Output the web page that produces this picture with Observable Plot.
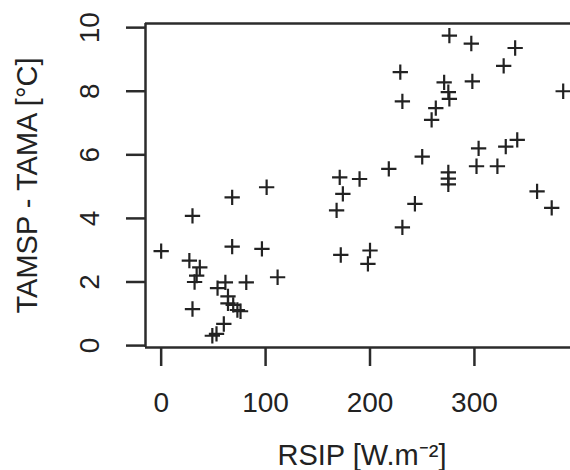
<!DOCTYPE html>
<html>
<head>
<meta charset="utf-8">
<script src="https://cdn.jsdelivr.net/npm/d3@7"></script>
<script src="https://cdn.jsdelivr.net/npm/@observablehq/plot@0.6"></script>
<style>
  html, body { margin: 0; padding: 0; background: white; overflow: hidden; }
  g[aria-label^="x-axis"] line, g[aria-label^="x-axis"] path,
  g[aria-label^="y-axis"] line, g[aria-label^="y-axis"] path { stroke-width: 2.5px; stroke: #2b2b2b; }
</style>
</head>
<body>
<div id="chart"></div>
<script>
const rsip = [0, 27, 37, 34, 32, 30, 30, 54, 61.5, 81.5, 111.5, 68, 96.5, 68, 101, 64, 64, 69, 73, 76, 60, 53, 49,
  276, 297, 339, 328, 229, 271, 298, 385, 275, 276, 231, 263, 259, 341, 330, 304, 250, 218, 275, 275,
  275, 302, 322, 360, 374, 171, 190, 174, 168, 243, 231, 172, 200, 198];
const dT = [2.97, 2.67, 2.46, 2.2, 2.0, 1.15, 4.08, 1.81, 1.99, 1.99, 2.15, 3.11, 3.04, 4.66, 4.98, 1.55, 1.33, 1.28, 1.12, 1.08, 0.68, 0.37, 0.31,
  9.75, 9.5, 9.36, 8.8, 8.6, 8.28, 8.31, 8.0, 7.97, 7.76, 7.68, 7.47, 7.1, 6.47, 6.26, 6.2, 5.94, 5.56, 5.45, 5.25,
  5.07, 5.64, 5.64, 4.85, 4.33, 5.29, 5.24, 4.77, 4.25, 4.46, 3.72, 2.85, 2.99, 2.57];
const xTicks = [0, 100, 200, 300];
const yTicks = [0, 2, 4, 6, 8, 10];
const xDomain = [-15, 392];
const yDomain = [-0.06, 10.13];
const xTitle = "RSIP [W.m⁻²]";
const yTitle = "TAMSP - TAMA [°C]";

const data = rsip.map((x, i) => ({x, y: dT[i]}));
const ink = "#222";

const chart = Plot.plot({
  width: 570,
  height: 470,
  marginLeft: 145,
  marginRight: 0,
  marginTop: 23,
  marginBottom: 123,
  style: {fontFamily: "'Liberation Sans', Arial, sans-serif", fontSize: "28px", color: ink, background: "white"},
  x: {domain: xDomain, ticks: xTicks, tickSize: 19, tickPadding: 26, label: null},
  y: {domain: yDomain, ticks: yTicks, tickSize: 19, tickFormat: () => "", label: null},
  marks: [
    Plot.ruleY(yDomain, {stroke: "#2b2b2b", strokeWidth: 2.5}),
    Plot.ruleX([xDomain[0]], {stroke: "#2b2b2b", strokeWidth: 2.5}),
    Plot.text(yTicks, {y: d => d, text: d => String(d), frameAnchor: "left", textAnchor: "middle", lineAnchor: "middle", dx: -55, rotate: -90, fontSize: 28, fill: ink}),
    Plot.text([yTitle], {frameAnchor: "left", textAnchor: "middle", lineAnchor: "middle", dx: -118, rotate: -90, fontSize: 29, fill: ink}),
    Plot.text([xTitle], {frameAnchor: "bottom", textAnchor: "middle", dx: 4, dy: 117, lineAnchor: "bottom", fontSize: 29, fill: ink}),
    Plot.dot(data, {x: "x", y: "y", symbol: "plus", r: 5, stroke: ink, strokeWidth: 2.2})
  ]
});
document.getElementById("chart").appendChild(chart);
</script>
</body>
</html>
